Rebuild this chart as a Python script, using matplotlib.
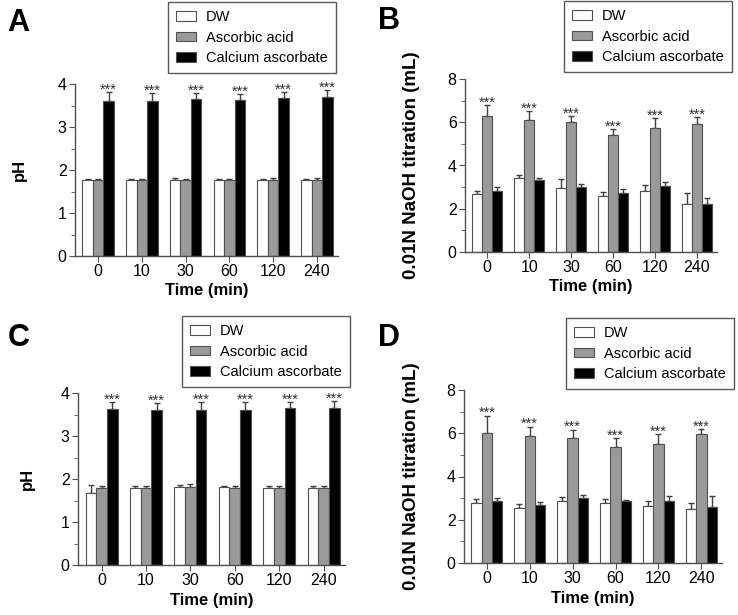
import matplotlib
matplotlib.use("Agg")
import matplotlib.pyplot as plt
import numpy as np
from matplotlib.patches import Patch
from matplotlib.ticker import MultipleLocator

plt.rcParams['font.family'] = ['Liberation Sans', 'DejaVu Sans']

times = ["0", "10", "30", "60", "120", "240"]
groups = ["DW", "Ascorbic acid", "Calcium ascorbate"]

# Panel A (pH)
a_dw = [1.77, 1.77, 1.77, 1.77, 1.76, 1.77]
a_dw_err = [0.03, 0.03, 0.04, 0.03, 0.03, 0.02]
a_aa = [1.76, 1.77, 1.76, 1.77, 1.77, 1.77]
a_aa_err = [0.02, 0.02, 0.04, 0.03, 0.04, 0.04]
a_ca = [3.61, 3.61, 3.64, 3.63, 3.68, 3.70]
a_ca_err = [0.20, 0.17, 0.15, 0.14, 0.14, 0.15]

# Panel B (titration)
b_dw = [2.70, 3.40, 2.96, 2.60, 2.81, 2.21]
b_dw_err = [0.10, 0.16, 0.42, 0.18, 0.30, 0.52]
b_aa = [6.30, 6.11, 6.03, 5.42, 5.75, 5.91]
b_aa_err = [0.51, 0.39, 0.26, 0.28, 0.45, 0.33]
b_ca = [2.84, 3.32, 2.99, 2.71, 3.05, 2.21]
b_ca_err = [0.18, 0.08, 0.15, 0.19, 0.19, 0.29]

# Panel C (pH)
c_dw = [1.67, 1.79, 1.81, 1.81, 1.79, 1.79]
c_dw_err = [0.19, 0.04, 0.04, 0.02, 0.05, 0.04]
c_aa = [1.79, 1.80, 1.82, 1.79, 1.80, 1.79]
c_aa_err = [0.04, 0.03, 0.06, 0.04, 0.04, 0.04]
c_ca = [3.63, 3.60, 3.61, 3.61, 3.65, 3.65]
c_ca_err = [0.16, 0.17, 0.18, 0.18, 0.14, 0.16]

# Panel D (titration)
d_dw = [2.77, 2.54, 2.85, 2.77, 2.63, 2.49]
d_dw_err = [0.19, 0.18, 0.19, 0.18, 0.23, 0.27]
d_aa = [6.03, 5.88, 5.78, 5.38, 5.49, 5.95]
d_aa_err = [0.79, 0.43, 0.39, 0.38, 0.48, 0.23]
d_ca = [2.87, 2.69, 3.00, 2.85, 2.85, 2.59]
d_ca_err = [0.12, 0.13, 0.15, 0.08, 0.25, 0.50]

colors = ["white", "#9a9a9a", "black"]
edge = "#505050"

fig = plt.figure(figsize=(7.38, 6.15), dpi=100)
W, H = 738, 615

def ax_px(l, r, t, b):
    return fig.add_axes([l / W, 1 - b / H, (r - l) / W, (b - t) / H])

panels = [
    dict(box=(75, 338, 84, 256), data=[(a_dw, a_dw_err), (a_aa, a_aa_err), (a_ca, a_ca_err)],
         ymax=4, major=1, minor=0.5, ylabel="pH", ylfs=12, star=2, letter="A", lpos=(7, 31),
         ylab_x=19, leg=(168, 332, 2, 74)),
    dict(box=(465, 717, 79, 252), data=[(b_dw, b_dw_err), (b_aa, b_aa_err), (b_ca, b_ca_err)],
         ymax=8, major=2, minor=1, ylabel="0.01N NaOH titration (mL)", ylfs=13.5, star=1, letter="B",
         lpos=(378, 29), ylab_x=411, leg=(564, 722, 1, 68)),
    dict(box=(78, 345, 393, 565), data=[(c_dw, c_dw_err), (c_aa, c_aa_err), (c_ca, c_ca_err)],
         ymax=4, major=1, minor=0.5, ylabel="pH", ylfs=12, star=2, letter="C", lpos=(8, 346),
         ylab_x=27, leg=(182, 342, 316, 383)),
    dict(box=(464, 722, 390, 563), data=[(d_dw, d_dw_err), (d_aa, d_aa_err), (d_ca, d_ca_err)],
         ymax=8, major=2, minor=1, ylabel="0.01N NaOH titration (mL)", ylfs=13.5, star=1, letter="D",
         lpos=(378, 346), ylab_x=411, leg=(566, 726, 318, 383)),
]

x = np.arange(len(times))
bw = 0.24
for p in panels:
    ax = ax_px(*p["box"])
    for i, (vals, errs) in enumerate(p["data"]):
        pos = x + (i - 1) * bw
        ax.bar(pos, vals, width=bw, color=colors[i], edgecolor=edge, linewidth=0.8, zorder=2)
        ax.errorbar(pos, vals, yerr=[np.zeros(len(errs)), errs], fmt="none",
                    ecolor="#404040", elinewidth=1.0, capsize=2.5, capthick=1.0, zorder=1)
        if i == p["star"]:
            for xx, v, e in zip(pos, vals, errs):
                ax.annotate("***", (xx, v + e), xytext=(0, -1.2), textcoords="offset points",
                            ha="center", va="baseline", fontsize=10.5, color="#303030",
                            annotation_clip=False)
    ax.set_xlim(-0.53, 5.48)
    ax.set_ylim(0, p["ymax"])
    ax.yaxis.set_major_locator(MultipleLocator(p["major"]))
    ax.yaxis.set_minor_locator(MultipleLocator(p["minor"]))
    ax.set_xticks(x)
    ax.set_xticklabels(times)
    for s in ["top", "right"]:
        ax.spines[s].set_visible(False)
    for s in ["left", "bottom"]:
        ax.spines[s].set_color("#505050")
        ax.spines[s].set_linewidth(1.0)
    ax.tick_params(axis="both", which="major", labelsize=11.5, length=4, color="#505050", pad=2)
    ax.tick_params(axis="y", which="minor", length=3, color="#505050")
    ax.set_xlabel("Time (min)", fontsize=12, fontweight="bold", labelpad=3)
    l, r, t, b = p["box"]
    fig.text(p["ylab_x"] / W, 1 - ((t + b) / 2) / H, p["ylabel"], rotation=90,
             ha="center", va="center", fontsize=p["ylfs"], fontweight="bold")
    fig.text(p["lpos"][0] / W, 1 - p["lpos"][1] / H, p["letter"], fontsize=22,
             fontweight="bold", ha="left", va="baseline")
    ll, lr, lt, lb = p["leg"]
    handles = [Patch(facecolor=c, edgecolor=edge, linewidth=0.8) for c in colors]
    leg = fig.legend(handles, groups, loc="upper left",
                     bbox_to_anchor=(ll / W, 1 - lt / H), bbox_transform=fig.transFigure,
                     fontsize=10.5, frameon=True, fancybox=False, edgecolor="#303030",
                     handlelength=1.4, handleheight=0.6, labelspacing=0.45,
                     borderpad=0.55, handletextpad=0.65, borderaxespad=0)
    leg.get_frame().set_linewidth(1.0)

fig.savefig("out.png", dpi=100)
